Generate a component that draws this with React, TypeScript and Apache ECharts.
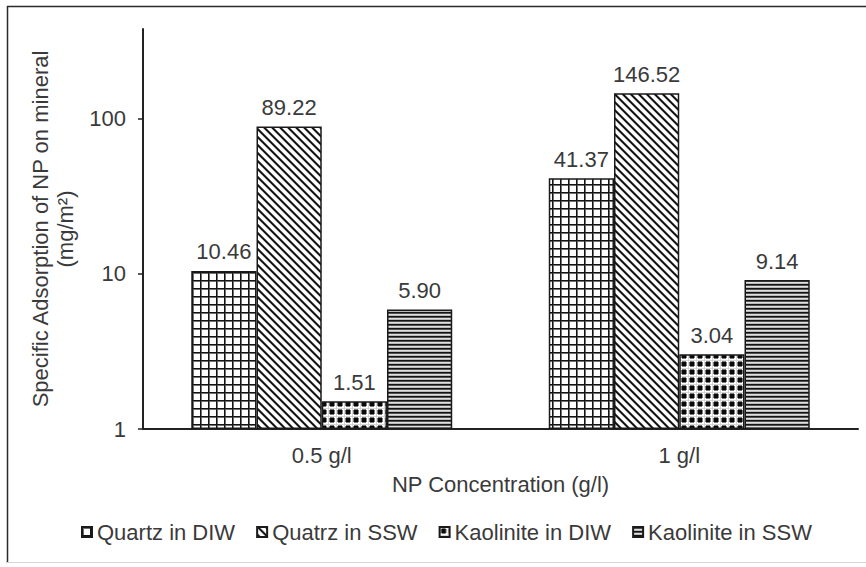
import { useEffect, useRef } from "react";
import * as echarts from "echarts";

// Specific adsorption of nanoparticles on minerals (mg/m²)
const categories = ["0.5 g/l", "1 g/l"];
const seriesNames = ["Quartz in DIW", "Quatrz in SSW", "Kaolinite in DIW", "Kaolinite in SSW"];
const quartzDIW = [10.46, 41.37];
const quartzSSW = [89.22, 146.52];
const kaoliniteDIW = [1.51, 3.04];
const kaoliniteSSW = [5.9, 9.14];
const yTicks = [1, 10, 100];

const FONT = "'Liberation Sans', Arial, Helvetica, sans-serif";
const TEXT = "#3a3a3a";

// Build a small greyscale tile for a hatch fill, pixel by pixel.
function makeTile(w: number, h: number, shade: (x: number, y: number) => number) {
  const c = document.createElement("canvas");
  c.width = w;
  c.height = h;
  const ctx = c.getContext("2d")!;
  const img = ctx.createImageData(w, h);
  for (let y = 0; y < h; y++) {
    for (let x = 0; x < w; x++) {
      const v = shade(x, y);
      const i = (y * w + x) * 4;
      img.data[i] = v;
      img.data[i + 1] = v;
      img.data[i + 2] = v;
      img.data[i + 3] = 255;
    }
  }
  ctx.putImageData(img, 0, 0);
  return c;
}

function gridTile() {
  return makeTile(8, 8, (x, y) => {
    if (x === 0 || y === 0) return 20;
    if (x === 1 || y === 1) return 110;
    return 255;
  });
}

function diagTile() {
  return makeTile(8, 8, (x, y) => {
    const d = (x - y + 16) % 8;
    if (d === 0 || d === 1) return 20;
    if (d === 2) return 110;
    if (d === 7) return 170;
    return 255;
  });
}

function dotTile() {
  return makeTile(8, 8, (x, y) => {
    const dx = x + 0.5 - 4;
    const dy = y + 0.5 - 4;
    const r = Math.sqrt(dx * dx + dy * dy);
    if (r < 2.2) return 10;
    if (r < 3) return 120;
    if (y === 0 || x === 0) return 215;
    return 255;
  });
}

function hlineTile() {
  return makeTile(4, 4, (_x, y) => [20, 80, 225, 185][y]);
}

export default function App() {
  const ref = useRef<HTMLDivElement>(null);

  useEffect(() => {
    if (!ref.current) return;
    const chart = echarts.init(ref.current, undefined, { renderer: "svg" });

    const fills = [gridTile(), diagTile(), dotTile(), hlineTile()];
    const values = [quartzDIW, quartzSSW, kaoliniteDIW, kaoliniteSSW];

    const series = seriesNames.map((name, i) => ({
      name,
      type: "bar" as const,
      data: values[i],
      barGap: "0%",
      barCategoryGap: "27%",
      itemStyle: {
        color: { image: fills[i], repeat: "repeat" },
        borderColor: "#1a1a1a",
        borderWidth: 1.5,
      },
      label: {
        show: true,
        position: "top" as const,
        distance: 8,
        color: TEXT,
        fontSize: 22,
        fontFamily: FONT,
        formatter: (p: any) => Number(p.value).toFixed(2),
      },
    }));

    chart.setOption({
      animation: false,
      backgroundColor: "#ffffff",
      textStyle: { fontFamily: FONT },
      grid: { left: 143, right: 8, top: 29, bottom: 138, containLabel: false },
      legend: {
        data: seriesNames,
        top: 516,
        left: 76,
        icon: "rect",
        itemWidth: 10,
        itemHeight: 10,
        itemGap: 21,
        textStyle: { fontSize: 22, color: TEXT, fontFamily: FONT },
      },
      xAxis: {
        type: "category",
        data: categories,
        axisLine: { lineStyle: { color: "#222", width: 2 } },
        axisTick: { show: false },
        axisLabel: { color: TEXT, fontSize: 22, margin: 15, fontFamily: FONT },
        name: "NP Concentration (g/l)",
        nameLocation: "middle",
        nameGap: 44,
        nameTextStyle: { color: TEXT, fontSize: 22, fontFamily: FONT },
      },
      yAxis: {
        type: "log",
        logBase: 10,
        min: 1,
        max: 380,
        axisLine: { show: true, lineStyle: { color: "#222", width: 2 } },
        axisTick: { show: true, length: 5, customValues: yTicks, lineStyle: { color: "#222", width: 1.5 } },
        axisLabel: { color: TEXT, fontSize: 22, margin: 17, customValues: yTicks, fontFamily: FONT },
        splitLine: { show: false },
        minorTick: { show: false },
        name: "Specific Adsorption of NP on mineral\n(mg/m²)",
        nameLocation: "middle",
        nameGap: 59,
        nameTextStyle: { color: TEXT, fontSize: 22, lineHeight: 25, fontFamily: FONT },
      },
      graphic: [
        { type: "line", shape: { x1: 7.5, y1: 6, x2: 7.5, y2: 563 }, style: { stroke: "#2a2a2a", lineWidth: 1.5 } },
        { type: "line", shape: { x1: 7, y1: 6.5, x2: 866, y2: 6.5 }, style: { stroke: "#2a2a2a", lineWidth: 1.5 } },
        { type: "line", shape: { x1: 7, y1: 562.5, x2: 866, y2: 562.5 }, style: { stroke: "#d8d8d8", lineWidth: 1 } },
      ],
      series,
    });

    return () => chart.dispose();
  }, []);

  return (
    <div
      ref={ref}
      style={{ position: "fixed", left: 0, top: 0, width: 866, height: 567, background: "#fff" }}
    />
  );
}
